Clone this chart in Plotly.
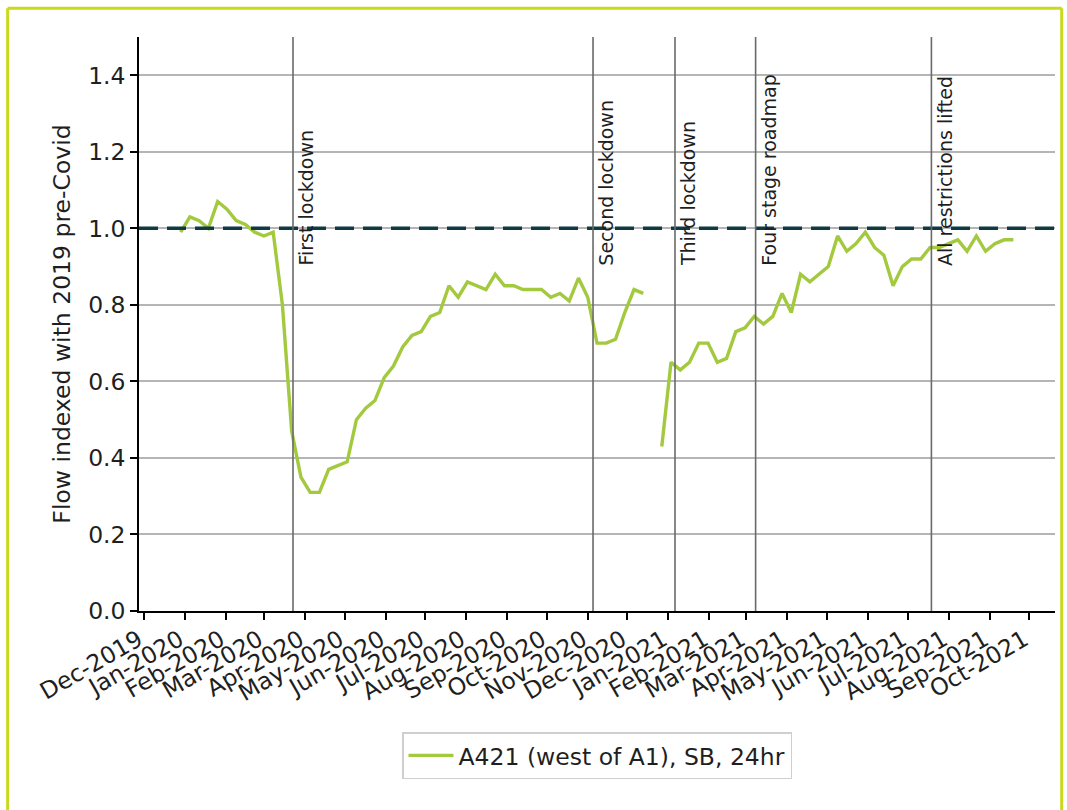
import pandas as pd
import plotly.graph_objects as go

# Weekly flow on the A421 (west of A1), southbound, 24hr, indexed to 2019 pre-Covid levels
week_start = "2019-12-29"
flow_index = [
    0.99, 1.03, 1.02, 1.00, 1.07, 1.05, 1.02, 1.01, 0.99, 0.98,
    0.99, 0.80, 0.47, 0.35, 0.31, 0.31, 0.37, 0.38, 0.39, 0.50,
    0.53, 0.55, 0.61, 0.64, 0.69, 0.72, 0.73, 0.77, 0.78, 0.85,
    0.82, 0.86, 0.85, 0.84, 0.88, 0.85, 0.85, 0.84, 0.84, 0.84,
    0.82, 0.83, 0.81, 0.87, 0.82, 0.70, 0.70, 0.71, 0.78, 0.84,
    0.83, None, 0.43, 0.65, 0.63, 0.65, 0.70, 0.70, 0.65, 0.66,
    0.73, 0.74, 0.77, 0.75, 0.77, 0.83, 0.78, 0.88, 0.86, 0.88,
    0.90, 0.98, 0.94, 0.96, 0.99, 0.95, 0.93, 0.85, 0.90, 0.92,
    0.92, 0.95, 0.95, 0.96, 0.97, 0.94, 0.98, 0.94, 0.96, 0.97,
    0.97,
]
weeks = pd.date_range(week_start, periods=len(flow_index), freq="7D")

# Policy milestones marked on the chart
event_dates = ["2020-03-23", "2020-11-05", "2021-01-06", "2021-03-08", "2021-07-19"]
event_labels = ["First lockdown", "Second lockdown", "Third lockdown",
                "Four stage roadmap", "All restrictions lifted"]
event_label_y = 0.9
baseline = 1.0

month_ticks = pd.date_range("2019-12-01", "2021-10-01", freq="MS")

series_name = "A421 (west of A1), SB, 24hr"
y_title = "Flow indexed with 2019 pre-Covid"

FONT = "DejaVu Sans"
TEXT = "#1f1f1f"
GREEN = "#a3c93f"
FRAME = "#c9da1e"

# 5% padding either side of the data, as in the usual auto-scaled axis
span = weeks[-1] - weeks[0]
x_lo = weeks[0] - span * 0.05
x_hi = weeks[-1] + span * 0.05

fig = go.Figure()
fig.add_trace(go.Scatter(
    x=weeks, y=flow_index, mode="lines", name=series_name,
    line=dict(color=GREEN, width=3.4), connectgaps=False,
))

# pre-Covid baseline
fig.add_shape(type="line", xref="paper", yref="y", x0=0, x1=1, y0=baseline, y1=baseline,
              line=dict(color="#0f3a44", width=3.5, dash="19px,9px"), layer="above")

for d, lab in zip(event_dates, event_labels):
    fig.add_shape(type="line", xref="x", yref="paper", x0=d, x1=d, y0=0, y1=1,
                  line=dict(color="#6a6a6a", width=1.6), layer="above")
    fig.add_annotation(x=d, y=event_label_y, xref="x", yref="y", text=lab,
                       textangle=-90, showarrow=False, xanchor="left", yanchor="bottom",
                       borderpad=0, xshift=1,
                       font=dict(family=FONT, size=19, color=TEXT))

# outer frame
for x0, y0, x1, y1 in [(-0.1434, 1.05, 1.0073, 1.05),
                       (-0.1434, 1.05, -0.1434, -0.36),
                       (1.0073, 1.05, 1.0073, -0.36)]:
    fig.add_shape(type="line", xref="paper", yref="paper", x0=x0, y0=y0, x1=x1, y1=y1,
                  line=dict(color=FRAME, width=3), layer="above")

fig.update_layout(
    width=1067, height=810,
    margin=dict(l=139, r=12, t=37, b=199),
    paper_bgcolor="white", plot_bgcolor="white",
    font=dict(family=FONT, size=23, color=TEXT),
    showlegend=True,
    legend=dict(orientation="h", x=0.5, xanchor="center", y=-0.211, yanchor="top",
                bordercolor="#cfcfcf", borderwidth=1.5, bgcolor="white",
                itemwidth=45,
                font=dict(family=FONT, size=23.5, color=TEXT)),
)
fig.update_xaxes(
    range=[x_lo, x_hi], tickvals=month_ticks, tickformat="%b-%Y", tickangle=-30,
    showgrid=False, showline=True, linecolor="black", linewidth=1.6,
    ticks="outside", ticklen=7, tickwidth=1.6, tickcolor="black",
    ticklabelshift=-5, ticklabelstandoff=-3,
    tickfont=dict(family=FONT, size=23.5, color=TEXT), zeroline=False,
)
fig.update_yaxes(
    range=[0, 1.5], tickvals=[0, 0.2, 0.4, 0.6, 0.8, 1.0, 1.2, 1.4], tickformat=".1f",
    showgrid=True, gridcolor="#b5b5b5", gridwidth=1.5,
    showline=True, linecolor="black", linewidth=1.6,
    ticks="outside", ticklen=7, tickwidth=1.6, tickcolor="black",
    tickfont=dict(family=FONT, size=23.5, color=TEXT), zeroline=False,
    title=dict(text=y_title, standoff=11, font=dict(family=FONT, size=23.5, color=TEXT)),
)

fig.write_html("out.html")
